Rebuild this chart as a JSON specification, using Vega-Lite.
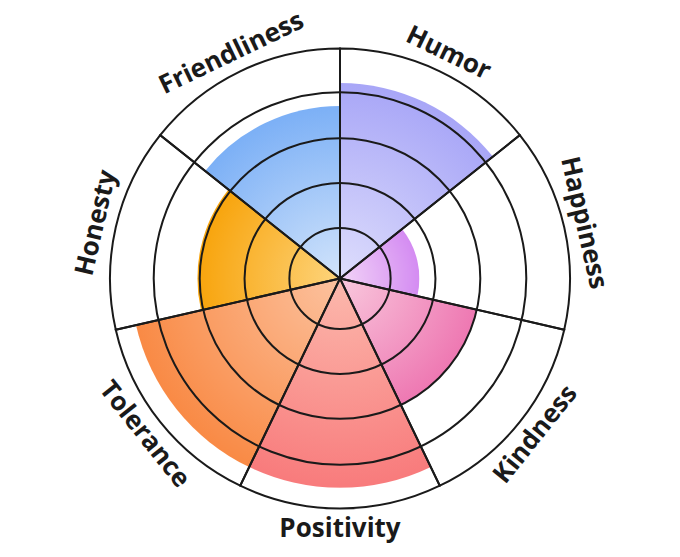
{
  "$schema": "https://vega.github.io/schema/vega-lite/v6.json",
  "width": 680,
  "height": 557,
  "padding": 0,
  "autosize": {"type": "fit", "contains": "padding"},
  "background": "white",
  "config": {"view": {"stroke": null}},
  "datasets": {
    "traits": [
      {"category": "Humor", "idx": 0, "value": 8.5},
      {"category": "Happiness", "idx": 1, "value": 3.45},
      {"category": "Kindness", "idx": 2, "value": 6.1},
      {"category": "Positivity", "idx": 3, "value": 9.1},
      {"category": "Tolerance", "idx": 4, "value": 9.1},
      {"category": "Honesty", "idx": 5, "value": 6.2},
      {"category": "Friendliness", "idx": 6, "value": 7.5}
    ],
    "rings": [{"ring": 2.2}, {"ring": 4.15}, {"ring": 6.1}, {"ring": 8.1}]
  },
  "resolve": {"scale": {"theta": "independent"}},
  "layer": [
    {
      "data": {"name": "traits"},
      "transform": [{"window": [{"op": "row_number", "as": "end"}], "sort": [{"field": "idx"}]}],
      "mark": {"type": "arc", "stroke": null},
      "encoding": {
        "theta": {"field": "idx", "type": "quantitative", "stack": null, "scale": {"domain": [0, 7], "range": [0, 6.283185307179586]}},
        "theta2": {"field": "end"},
        "radius": {"field": "value", "type": "quantitative", "stack": null, "scale": {"type": "linear", "domain": [0, 10], "range": [0, 230], "zero": true}},
        "fill": {
          "condition": [
            {"test": "datum.category === 'Humor'", "value": {"gradient": "radial", "x1": 0.1091, "y1": 1.0, "r1": 0, "x2": 0.1091, "y2": 1.0, "r2": 1.0, "stops": [{"offset": 0, "color": "#dedefc"}, {"offset": 1, "color": "#a8a6f7"}]}},
            {"test": "datum.category === 'Happiness'", "value": {"gradient": "radial", "x1": 0, "y1": 0.7005, "r1": 0, "x2": 0, "y2": 0.7005, "r2": 1.0, "stops": [{"offset": 0, "color": "#f2d4f7"}, {"offset": 1, "color": "#d48cf2"}]}},
            {"test": "datum.category === 'Kindness'", "value": {"gradient": "radial", "x1": 0, "y1": 0.0379, "r1": 0, "x2": 0, "y2": 0.0379, "r2": 1.0257, "stops": [{"offset": 0, "color": "#f9c8dd"}, {"offset": 1, "color": "#ee78b2"}]}},
            {"test": "datum.category === 'Positivity'", "value": {"gradient": "radial", "x1": 0.5, "y1": 0, "r1": 0, "x2": 0.5, "y2": 0, "r2": 1.0, "stops": [{"offset": 0, "color": "#fcb9ad"}, {"offset": 1, "color": "#f87b7c"}]}},
            {"test": "datum.category === 'Tolerance'", "value": {"gradient": "radial", "x1": 1, "y1": 0.0379, "r1": 0, "x2": 1, "y2": 0.0379, "r2": 1.0257, "stops": [{"offset": 0, "color": "#fcc29f"}, {"offset": 1, "color": "#f98a45"}]}},
            {"test": "datum.category === 'Honesty'", "value": {"gradient": "radial", "x1": 1, "y1": 0.7005, "r1": 0, "x2": 1, "y2": 0.7005, "r2": 1.0, "stops": [{"offset": 0, "color": "#fdd47c"}, {"offset": 1, "color": "#f8a40c"}]}}
          ],
          "value": {"gradient": "radial", "x1": 0.8909, "y1": 1.0, "r1": 0, "x2": 0.8909, "y2": 1.0, "r2": 1.0, "stops": [{"offset": 0, "color": "#d2e4fb"}, {"offset": 1, "color": "#7cb0f6"}]}
        }
      }
    },
    {
      "data": {"name": "rings"},
      "mark": {"type": "arc", "filled": false, "stroke": "#1a1a1a", "strokeWidth": 2},
      "encoding": {
        "theta": {"value": 0},
        "theta2": {"value": 6.2832},
        "radius": {"field": "ring", "type": "quantitative", "stack": null, "scale": {"type": "linear", "domain": [0, 10], "range": [0, 230], "zero": true}}
      }
    },
    {
      "data": {"name": "traits"},
      "transform": [{"window": [{"op": "row_number", "as": "end"}], "sort": [{"field": "idx"}]}],
      "mark": {"type": "arc", "filled": false, "stroke": "#1a1a1a", "strokeWidth": 2, "radius": 230},
      "encoding": {
        "theta": {"field": "idx", "type": "quantitative", "stack": null, "scale": {"domain": [0, 7], "range": [0, 6.283185307179586]}},
        "theta2": {"field": "end"}
      }
    },
    {
      "data": {"name": "traits"},
      "mark": {"type": "text", "radius": 250, "font": "Open Sans", "fontWeight": "bold", "fontSize": 26, "color": "#1a1a1a", "align": "center", "baseline": "middle"},
      "encoding": {
        "theta": {"field": "idx", "type": "quantitative", "stack": null, "scale": {"domain": [-0.5, 6.5], "range": [0, 6.283185307179586]}},
        "text": {"field": "category", "type": "nominal"},
        "angle": {
          "condition": [
            {"test": "datum.idx === 0", "value": 25.7},
            {"test": "datum.idx === 1", "value": 77.1},
            {"test": "datum.idx === 2", "value": -51.4},
            {"test": "datum.idx === 3", "value": 0},
            {"test": "datum.idx === 4", "value": 51.4},
            {"test": "datum.idx === 5", "value": -77.1}
          ],
          "value": -25.7
        }
      }
    }
  ]
}
